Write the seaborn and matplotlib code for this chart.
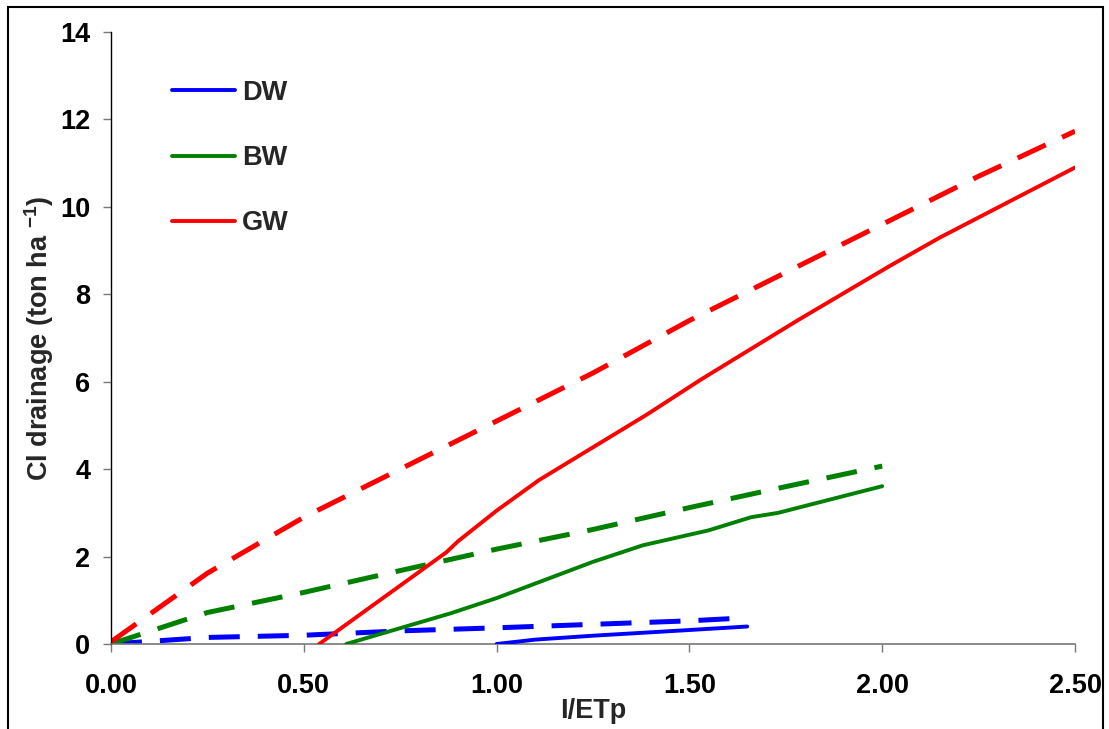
import matplotlib
matplotlib.use("Agg")
import matplotlib.pyplot as plt
import seaborn as sns
import pandas as pd
from matplotlib.patches import Rectangle

# ---------------- data ----------------
dw_sim_x = [1.00, 1.10, 1.25, 1.50, 1.65]
dw_sim_y = [0.00, 0.10, 0.19, 0.32, 0.40]
dw_obs_x = [0.00, 0.25, 0.50, 0.75, 1.00, 1.25, 1.50, 1.65]
dw_obs_y = [0.00, 0.15, 0.20, 0.30, 0.37, 0.45, 0.53, 0.60]

bw_sim_x = [0.61, 0.88, 1.00, 1.25, 1.38, 1.55, 1.66, 1.73, 2.00]
bw_sim_y = [0.00, 0.70, 1.05, 1.88, 2.26, 2.60, 2.90, 3.00, 3.61]
bw_obs_x = [0.00, 0.25, 0.50, 0.75, 1.00, 1.25, 1.50, 1.75, 2.00]
bw_obs_y = [0.00, 0.72, 1.18, 1.68, 2.17, 2.62, 3.12, 3.60, 4.07]

gw_sim_x = [0.54, 0.87, 0.90, 1.00, 1.11, 1.25, 1.39, 1.53, 1.78, 2.02, 2.15, 2.50]
gw_sim_y = [0.00, 2.10, 2.35, 3.05, 3.75, 4.50, 5.25, 6.05, 7.40, 8.65, 9.30, 10.90]
gw_obs_x = [0.00, 0.25, 0.50, 0.75, 1.00, 1.25, 1.50, 1.75, 2.00, 2.25, 2.50]
gw_obs_y = [0.05, 1.62, 2.90, 4.00, 5.10, 6.20, 7.40, 8.50, 9.60, 10.70, 11.73]

series_names = ["DW", "BW", "GW"]
series_colors = ["#0000FF", "#008000", "#FF0000"]

x_ticks = [0.0, 0.5, 1.0, 1.5, 2.0, 2.5]
x_tick_labels = ["0.00", "0.50", "1.00", "1.50", "2.00", "2.50"]
y_ticks = [0, 2, 4, 6, 8, 10, 12, 14]

# ---------------- style ----------------
sns.set_style("white")
plt.rcParams["font.family"] = ["Liberation Sans", "DejaVu Sans"]
plt.rcParams["font.weight"] = "bold"
plt.rcParams["mathtext.fontset"] = "custom"
plt.rcParams["mathtext.bf"] = "Liberation Sans:bold"
plt.rcParams["mathtext.rm"] = "Liberation Sans:bold"
plt.rcParams["mathtext.default"] = "bf"

fig = plt.figure(figsize=(11.09, 7.29), dpi=100)
ax = fig.add_axes([111 / 1109, 1 - 644 / 729, (1075 - 111) / 1109, (644 - 32) / 729])

LW_SOLID = 2.8
LW_DASH = 3.6
DASH = (6.2, 3.6)

sim = [(dw_sim_x, dw_sim_y), (bw_sim_x, bw_sim_y), (gw_sim_x, gw_sim_y)]
obs = [(dw_obs_x, dw_obs_y), (bw_obs_x, bw_obs_y), (gw_obs_x, gw_obs_y)]

for name, col, (sx, sy), (ox, oy) in zip(series_names, series_colors, sim, obs):
    sns.lineplot(x=ox, y=oy, ax=ax, color=col, lw=LW_DASH, sort=False,
                 legend=False, zorder=2)
    ax.lines[-1].set_dashes(DASH)
    ax.lines[-1].set_dash_capstyle("butt")
    sns.lineplot(x=sx, y=sy, ax=ax, color=col, lw=LW_SOLID, sort=False,
                 label=name, zorder=3)

ax.set_xlim(0, 2.5)
ax.set_ylim(0, 14)
ax.set_xticks(x_ticks)
ax.set_xticklabels(x_tick_labels)
ax.set_yticks(y_ticks)

for s in ["top", "right"]:
    ax.spines[s].set_visible(False)
ax.spines["left"].set_color("black")
ax.spines["bottom"].set_color("#777777")
ax.spines["left"].set_linewidth(1.0)
ax.spines["bottom"].set_linewidth(1.2)

ax.tick_params(axis="both", direction="out", length=6, width=1.0, colors="black",
               labelsize=19.5, bottom=True, left=True)
ax.tick_params(axis="x", pad=15, color="#777777")
ax.tick_params(axis="y", pad=9, color="#777777")
for lab in ax.get_xticklabels() + ax.get_yticklabels():
    lab.set_fontweight("bold")

ax.set_xlabel("I/ETp", fontsize=19.5, fontweight="bold", labelpad=-1)
ax.set_ylabel(r"Cl drainage (ton ha $^{-1}$)", fontsize=19.5, fontweight="bold", labelpad=3)

leg = ax.legend(loc="upper left", bbox_to_anchor=(0.063, 0.922), frameon=False,
                fontsize=19.5, handlelength=2.35, handletextpad=0.25,
                labelspacing=1.45, borderpad=0, borderaxespad=0)
for t in leg.get_texts():
    t.set_fontweight("bold")

# figure frame (left, top, right edges visible)
fig.patches.append(Rectangle((7.5 / 1109, -0.05), (1102.5 - 7.5) / 1109, 1.05 - 7.5 / 729,
                             transform=fig.transFigure, fill=False,
                             edgecolor="black", lw=1.5, clip_on=False))

fig.savefig("out.png", dpi=100, facecolor="white")
